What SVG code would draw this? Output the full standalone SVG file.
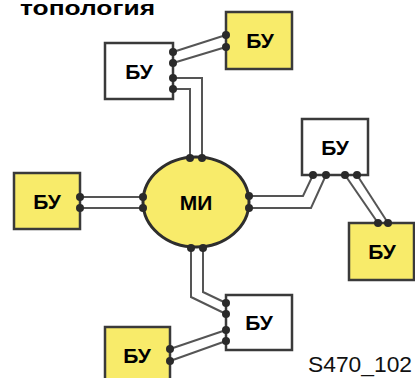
<svg xmlns="http://www.w3.org/2000/svg" width="415" height="378" viewBox="0 0 415 378">
  <style>
    .box { stroke: #3a3a3a; stroke-width: 2.5; }
    .white { fill: #ffffff; }
    .yellow { fill: #f8eb6a; }
    .wire { fill: none; stroke: #555555; stroke-width: 2; stroke-linejoin: miter; }
    .dot { fill: #2a2a2a; }
    .lbl { font-family: "Liberation Sans", Arial, sans-serif; font-weight: bold; font-size: 21px; fill: #000; text-anchor: middle; }
    .title { font-family: "Liberation Sans", Arial, sans-serif; font-weight: bold; font-size: 21px; fill: #000; }
    .code { font-family: "Liberation Sans", Arial, sans-serif; font-size: 22px; fill: #111; }
  </style>
  <rect width="415" height="378" fill="#ffffff"/>

  <text class="title" x="20" y="15" textLength="135" lengthAdjust="spacingAndGlyphs">топология</text>

  <!-- wiring -->
  <g id="connectors">
    <!-- top-left unit to top-right unit -->
    <polyline class="wire" points="173,52 226,35"/>
    <polyline class="wire" points="173,63 226,47"/>
    <!-- top-left unit down to hub -->
    <polyline class="wire" points="173,78 202,78 202,158"/>
    <polyline class="wire" points="173,89 190,89 190,158"/>
    <!-- left unit to hub -->
    <polyline class="wire" points="80,197 143,197"/>
    <polyline class="wire" points="80,208 143,208"/>
    <!-- hub to right unit -->
    <polyline class="wire" points="249,196 303,196 313,175"/>
    <polyline class="wire" points="249,208 311,208 326,175"/>
    <!-- right unit to lower-right unit -->
    <polyline class="wire" points="345,175 378,223"/>
    <polyline class="wire" points="357,175 388,223"/>
    <!-- hub down to bottom unit -->
    <polyline class="wire" points="203,248 203,292 226,303"/>
    <polyline class="wire" points="191,248 191,297 226,314"/>
    <!-- bottom unit to bottom-left unit -->
    <polyline class="wire" points="226,330 170,349"/>
    <polyline class="wire" points="226,341 170,361"/>
  </g>

  <g id="hub">
    <ellipse cx="196" cy="202" rx="53" ry="45" class="yellow" stroke="#2e2e2e" stroke-width="3"/>
    <text class="lbl" x="196" y="210">МИ</text>
    <circle class="dot" cx="190" cy="158" r="4"/>
    <circle class="dot" cx="202" cy="158" r="4"/>
    <circle class="dot" cx="143" cy="197" r="4"/>
    <circle class="dot" cx="143" cy="208" r="4"/>
    <circle class="dot" cx="249" cy="196" r="4"/>
    <circle class="dot" cx="249" cy="208" r="4"/>
    <circle class="dot" cx="191" cy="248" r="4"/>
    <circle class="dot" cx="203" cy="248" r="4"/>
  </g>

  <g id="unit-top-left">
    <rect class="box white" x="105" y="43" width="68" height="56"/>
    <text class="lbl" x="139" y="79">БУ</text>
    <circle class="dot" cx="173" cy="52" r="4"/>
    <circle class="dot" cx="173" cy="63" r="4"/>
    <circle class="dot" cx="173" cy="78" r="4"/>
    <circle class="dot" cx="173" cy="89" r="4"/>
  </g>

  <g id="unit-top-right">
    <rect class="box yellow" x="226" y="12" width="66" height="57"/>
    <text class="lbl" x="260" y="48">БУ</text>
    <circle class="dot" cx="226" cy="35" r="4"/>
    <circle class="dot" cx="226" cy="47" r="4"/>
  </g>

  <g id="unit-left">
    <rect class="box yellow" x="14" y="173" width="66" height="56"/>
    <text class="lbl" x="47" y="209">БУ</text>
    <circle class="dot" cx="80" cy="197" r="4"/>
    <circle class="dot" cx="80" cy="208" r="4"/>
  </g>

  <g id="unit-right">
    <rect class="box white" x="302" y="119" width="66" height="56"/>
    <text class="lbl" x="335" y="155">БУ</text>
    <circle class="dot" cx="313" cy="175" r="4"/>
    <circle class="dot" cx="326" cy="175" r="4"/>
    <circle class="dot" cx="345" cy="175" r="4"/>
    <circle class="dot" cx="357" cy="175" r="4"/>
  </g>

  <g id="unit-lower-right">
    <rect class="box yellow" x="349" y="223" width="65" height="57"/>
    <text class="lbl" x="382" y="259">БУ</text>
    <circle class="dot" cx="378" cy="223" r="4"/>
    <circle class="dot" cx="388" cy="223" r="4"/>
  </g>

  <g id="unit-bottom">
    <rect class="box white" x="226" y="295" width="66" height="55"/>
    <text class="lbl" x="259" y="330">БУ</text>
    <circle class="dot" cx="226" cy="303" r="4"/>
    <circle class="dot" cx="226" cy="314" r="4"/>
    <circle class="dot" cx="226" cy="330" r="4"/>
    <circle class="dot" cx="226" cy="341" r="4"/>
  </g>

  <g id="unit-bottom-left">
    <rect class="box yellow" x="105" y="327" width="65" height="60"/>
    <text class="lbl" x="137" y="363">БУ</text>
    <circle class="dot" cx="170" cy="349" r="4"/>
    <circle class="dot" cx="170" cy="361" r="4"/>
  </g>

  <text class="code" x="308" y="372" textLength="104" lengthAdjust="spacingAndGlyphs">S470_102</text>
</svg>
